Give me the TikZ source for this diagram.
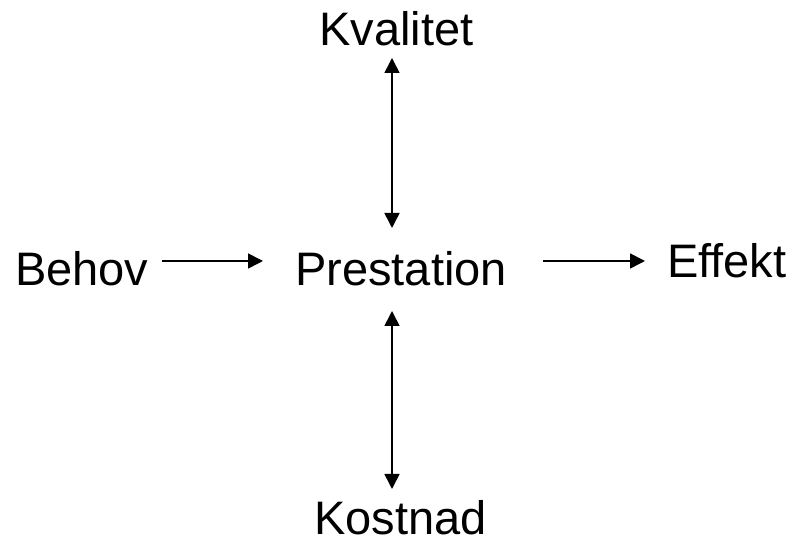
\documentclass[tikz,border=0pt]{standalone}
\usepackage{fontspec}
\setmainfont{Liberation Sans}
\usetikzlibrary{arrows.meta}
\begin{document}
\begin{tikzpicture}[x=1bp,y=1bp,
  lbl/.style={anchor=base west,inner sep=0pt,font=\fontsize{47bp}{56bp}\selectfont},
  conn/.style={line width=1.6bp,-{Triangle[length=15bp,width=15bp]}},
  biconn/.style={line width=1.6bp,{Triangle[length=15bp,width=15bp]}-{Triangle[length=15bp,width=15bp]}}]
\useasboundingbox (0,0) rectangle (791,540);
\node[lbl] (kval) at (319,494) {Kvalitet};
\node[lbl] (behov) at (15,254) {Behov};
\node[lbl] (prest) at (295,254) {Prestation};
\node[lbl] (eff) at (667,262) {Effekt};
\node[lbl] (kost) at (314,5) {Kostnad};
\coordinate (kt) at (392,482);
\coordinate (kb) at (392,312);
\coordinate (ct) at (392,229);
\coordinate (cb) at (392,51);
\coordinate (bl) at (162,279);
\coordinate (br) at (263,279);
\coordinate (el) at (543,279);
\coordinate (er) at (645,279);
\draw[biconn] (kt) -- (kb);
\draw[biconn] (ct) -- (cb);
\draw[conn] (bl) -- (br);
\draw[conn] (el) -- (er);
\end{tikzpicture}
\end{document}
